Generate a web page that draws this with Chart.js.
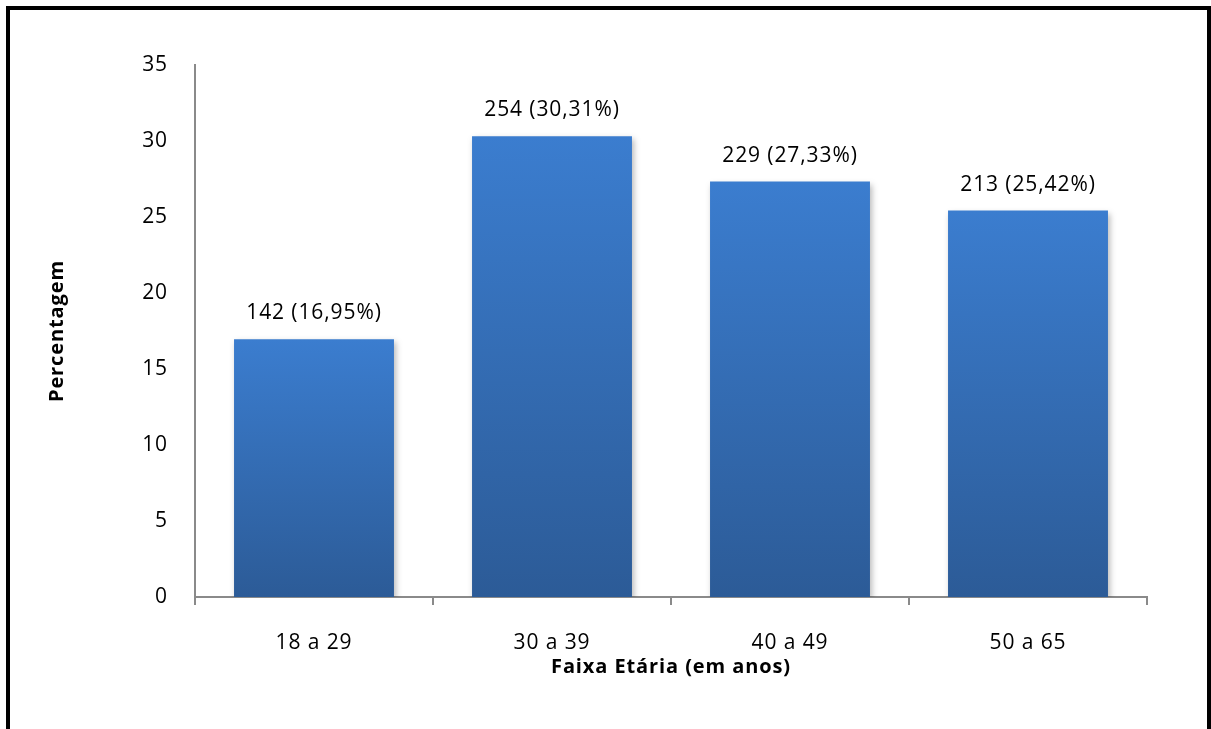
<!DOCTYPE html>
<html lang="pt-br">
<head>
<meta charset="UTF-8">
<title>Faixa Etária</title>
<script src="https://cdn.jsdelivr.net/npm/chart.js"></script>
<style>
  html, body { margin: 0; padding: 0; background: #fff; }
  #wrap { width: 1211px; height: 729px; }
</style>
</head>
<body>
<div id="wrap"><canvas id="grafico"></canvas></div>
<script>
// dados
const faixas = ['18 a 29', '30 a 39', '40 a 49', '50 a 65'];
const quantidades = [142, 254, 229, 213];
const percentuais = [16.95, 30.31, 27.33, 25.42];
const ticksY = [0, 5, 10, 15, 20, 25, 30, 35];

const fonte = "'Open Sans', 'Liberation Sans', sans-serif";
const cinzaEixo = '#8a8a8a';

// moldura preta em volta do gráfico (e espaçamento do texto)
const moldura = {
    id: 'moldura',
    beforeDraw(chart) {
        const ctx = chart.ctx;
        ctx.letterSpacing = '0.9px';
        ctx.save();
        ctx.strokeStyle = '#000';
        ctx.lineWidth = 4;
        ctx.beginPath();
        ctx.moveTo(8, chart.height + 5);
        ctx.lineTo(8, 8);
        ctx.lineTo(1209, 8);
        ctx.lineTo(1209, chart.height + 5);
        ctx.stroke();
        ctx.restore();
    }
};

// sombra leve nas barras
const sombra = {
    id: 'sombra',
    beforeDatasetsDraw(chart) {
        const ctx = chart.ctx;
        ctx.save();
        ctx.shadowColor = 'rgba(0,0,0,0.28)';
        ctx.shadowBlur = 6;
        ctx.shadowOffsetX = 2;
        ctx.shadowOffsetY = 3;
    },
    afterDatasetsDraw(chart) {
        chart.ctx.restore();
    }
};

// rótulos "n (x%)" acima das barras
const rotulos = {
    id: 'rotulos',
    afterDatasetsDraw(chart) {
        const ctx = chart.ctx;
        const meta = chart.getDatasetMeta(0);
        ctx.save();
        ctx.font = "21px " + fonte;
        ctx.fillStyle = '#000';
        ctx.textAlign = 'center';
        ctx.textBaseline = 'middle';
        meta.data.forEach(function (barra, i) {
            const txt = quantidades[i] + ' (' + percentuais[i].toFixed(2).replace('.', ',') + '%)';
            ctx.fillText(txt, barra.x, barra.y - 26);
        });
        ctx.restore();
    }
};

function gradienteBarra(context) {
    const chart = context.chart;
    if (!chart.chartArea) return '#3a78c6';
    const y = chart.scales.y;
    const topo = y.getPixelForValue(context.raw);
    const base = y.getPixelForValue(0);
    const g = chart.ctx.createLinearGradient(0, topo, 0, base);
    g.addColorStop(0, '#3b7dcf');
    g.addColorStop(1, '#2c5b97');
    return g;
}

new Chart(document.getElementById('grafico'), {
    type: 'bar',
    data: {
        labels: faixas,
        datasets: [{
            label: 'Percentagem',
            data: percentuais,
            backgroundColor: gradienteBarra,
            borderWidth: 0,
            barPercentage: 0.672,
            categoryPercentage: 1.0
        }]
    },
    options: {
        responsive: true,
        maintainAspectRatio: false,
        animation: false,
        layout: { padding: { top: 65, right: 64, left: 0, bottom: 0 } },
        plugins: {
            legend: { display: false },
            tooltip: { enabled: false }
        },
        scales: {
            x: {
                afterFit(scale) { scale.height = 132; },
                grid: {
                    display: true,
                    offset: true,
                    drawOnChartArea: false,
                    drawTicks: true,
                    tickLength: 8,
                    color: cinzaEixo,
                    lineWidth: 2
                },
                border: { display: true, color: cinzaEixo, width: 2 },
                ticks: {
                    color: '#000',
                    padding: 25,
                    font: { family: fonte, size: 21 }
                },
                title: {
                    display: true,
                    text: 'Faixa Etária (em anos)',
                    color: '#000',
                    font: { family: fonte, size: 20, weight: 'bold' },
                    padding: { bottom: 50, top: 0 }
                }
            },
            y: {
                min: 0,
                max: 35,
                afterFit(scale) { scale.width = 195; },
                afterBuildTicks(scale) {
                    scale.ticks = ticksY.map(v => ({ value: v }));
                },
                grid: { display: false, drawTicks: false },
                border: { display: true, color: cinzaEixo, width: 2 },
                ticks: {
                    color: '#000',
                    padding: 27,
                    font: { family: fonte, size: 21 }
                },
                title: {
                    display: true,
                    text: 'Percentagem',
                    color: '#000',
                    font: { family: fonte, size: 20, weight: 'bold' },
                    padding: { top: 45, bottom: 0 }
                }
            }
        }
    },
    plugins: [moldura, sombra, rotulos]
});
</script>
</body>
</html>
